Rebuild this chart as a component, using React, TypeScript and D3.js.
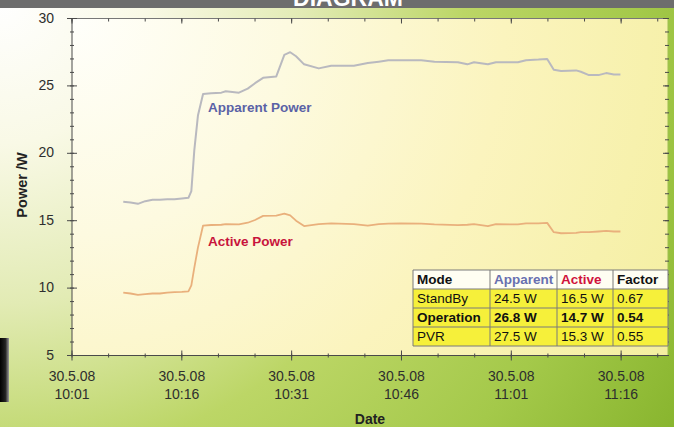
import React from "react";
import * as d3 from "d3";

// ---- data (minutes after 10:00 on 30.5.08) ----
const minutes = [
  8.0, 9.0, 10.0, 11.0, 12.0, 13.0, 14.0, 15.0, 16.0, 16.9, 17.3, 17.7, 18.2, 18.9,
  20.0, 21.4, 22.0, 23.8, 25.0, 26.0, 27.1, 28.9, 30.0, 30.8, 31.6, 32.7, 34.7, 36.4,
  39.5, 41.4, 42.9, 44.2, 45.9, 48.7, 50.5, 53.7, 55.0, 55.9, 57.8, 58.9, 61.9, 63.0,
  64.7, 65.9, 66.8, 67.8, 69.85, 70.5, 71.6, 72.9, 73.95, 75.0, 75.9,
];
const apparentPower = [
  16.4, 16.35, 16.25, 16.45, 16.55, 16.55, 16.6, 16.6, 16.65, 16.7, 17.2, 20.2, 22.8, 24.4,
  24.45, 24.5, 24.6, 24.5, 24.8, 25.2, 25.6, 25.7, 27.3, 27.5, 27.2, 26.6, 26.3, 26.5,
  26.5, 26.7, 26.8, 26.9, 26.9, 26.9, 26.8, 26.75, 26.6, 26.75, 26.6, 26.75, 26.75, 26.9,
  26.95, 27.0, 26.2, 26.1, 26.15, 26.05, 25.8, 25.8, 25.95, 25.85, 25.85,
];
const activePower = [
  9.67, 9.6, 9.5, 9.55, 9.6, 9.6, 9.67, 9.7, 9.72, 9.75, 10.2, 11.5, 13.0, 14.64,
  14.68, 14.7, 14.75, 14.72, 14.85, 15.05, 15.36, 15.38, 15.53, 15.4, 15.0, 14.6, 14.75, 14.8,
  14.75, 14.64, 14.75, 14.78, 14.8, 14.78, 14.72, 14.67, 14.7, 14.75, 14.6, 14.75, 14.72, 14.8,
  14.8, 14.84, 14.15, 14.07, 14.1, 14.15, 14.15, 14.2, 14.25, 14.2, 14.2,
];

const yTicks = [5, 10, 15, 20, 25, 30];
const xTickMinutes = [1, 16, 31, 46, 61, 76];
const xTickDates = ["30.5.08", "30.5.08", "30.5.08", "30.5.08", "30.5.08", "30.5.08"];
const xTickTimes = ["10:01", "10:16", "10:31", "10:46", "11:01", "11:16"];

const tableHeader = ["Mode", "Apparent", "Active", "Factor"];
const modes = ["StandBy", "Operation", "PVR"];
const apparentW = ["24.5 W", "26.8 W", "27.5 W"];
const activeW = ["16.5 W", "14.7 W", "15.3 W"];
const factors = ["0.67", "0.54", "0.55"];

const W = 674;
const H = 427;
const base = new Date(2008, 4, 30, 10, 0, 0).getTime();
const toDate = (m: number) => new Date(base + m * 60000);

const L = 72, R = 668, T = 18.5, B = 355.5;

export default function App() {
  const x = d3.scaleTime().domain([toDate(1), toDate(82.4)]).range([L, R]);
  const y = d3.scaleLinear().domain([5, 30]).range([B, T]);

  const lineGen = (vals: number[]) =>
    d3
      .line<number>()
      .x((_, i) => x(toDate(minutes[i])))
      .y((d) => y(d))
      .curve(d3.curveLinear)(vals) || "";

  const minorY = d3.range(5, 30.001, 1);
  const minorX = d3.range(1, 82, 5);

  const font = "'Liberation Sans', Arial, Helvetica, sans-serif";
  const axisColor = "#4a4a4a";

  const cols = [413, 490, 557, 613, 668];
  const rows = [270, 289, 308, 327, 346];
  const tableRows = modes.map((m, i) => [m, apparentW[i], activeW[i], factors[i]]);

  return (
    <svg
      width={W}
      height={H}
      style={{ position: "absolute", left: 0, top: 0, display: "block" }}
      fontFamily={font}
    >
      <defs>
        <radialGradient id="bg" cx="0" cy="0" r="800" gradientUnits="userSpaceOnUse">
          <stop offset="0" stopColor="#ffffff" />
          <stop offset="0.18" stopColor="#f9f9e6" />
          <stop offset="0.38" stopColor="#e2ebb4" />
          <stop offset="0.58" stopColor="#bcd666" />
          <stop offset="0.8" stopColor="#a4c94a" />
          <stop offset="1" stopColor="#88b52e" />
        </radialGradient>
        <radialGradient id="plotbg" cx={L} cy={T} r="720" gradientUnits="userSpaceOnUse">
          <stop offset="0" stopColor="#fffffb" />
          <stop offset="0.3" stopColor="#fdfae0" />
          <stop offset="0.6" stopColor="#fbf4be" />
          <stop offset="1" stopColor="#f3ee9c" />
        </radialGradient>
        <linearGradient id="dark" x1="0" y1="0" x2="1" y2="0">
          <stop offset="0" stopColor="#000" />
          <stop offset="0.6" stopColor="#222" />
          <stop offset="1" stopColor="#9a9a9a" />
        </linearGradient>
        <clipPath id="barclip">
          <rect x={0} y={0} width={W} height={8} />
        </clipPath>
      </defs>

      <rect x={0} y={0} width={W} height={H} fill="url(#bg)" />
      <rect x={0} y={338} width={9} height={64} fill="url(#dark)" />

      {/* top title bar */}
      <rect x={0} y={0} width={W} height={8} fill="#6d6d6d" />
      <g clipPath="url(#barclip)">
        <text x={348} y={6} textAnchor="middle" fill="#fff" fontWeight="bold" fontSize={23}>
          DIAGRAM
        </text>
      </g>

      {/* plot area */}
      <rect x={L} y={T} width={R - L} height={B - T} fill="url(#plotbg)" />

      {/* frame */}
      <line x1={L} x2={L} y1={T} y2={B} stroke={axisColor} strokeWidth={1} />
      <line x1={L} x2={R} y1={B} y2={B} stroke={axisColor} strokeWidth={1} />
      <line x1={L} x2={R} y1={T} y2={T} stroke="#777" strokeWidth={1} />
      <line x1={R} x2={R} y1={T} y2={B} stroke="#9fbf50" strokeWidth={1} />

      {/* y ticks */}
      {minorY.map((v) => (
        <g key={"ym" + v}>
          <line x1={L - 2} x2={L + 2} y1={y(v)} y2={y(v)} stroke={axisColor} />
          <line x1={R - 3} x2={R + 1} y1={y(v)} y2={y(v)} stroke={axisColor} />
        </g>
      ))}
      {yTicks.map((v) => (
        <g key={"y" + v}>
          <line x1={L - 5} x2={L + 5} y1={y(v)} y2={y(v)} stroke={axisColor} />
          <line x1={R - 5} x2={R + 1} y1={y(v)} y2={y(v)} stroke={axisColor} />
          <text x={54} y={y(v) + 4} textAnchor="end" fontSize={14} fill="#2e2e2e">
            {v}
          </text>
        </g>
      ))}

      {/* x ticks */}
      {minorX.map((m) => (
        <g key={"xm" + m}>
          <line x1={x(toDate(m))} x2={x(toDate(m))} y1={B - 2} y2={B + 2} stroke={axisColor} />
          <line x1={x(toDate(m))} x2={x(toDate(m))} y1={T} y2={T + 3} stroke={axisColor} />
        </g>
      ))}
      {xTickMinutes.map((m, i) => (
        <g key={"x" + m}>
          <line x1={x(toDate(m))} x2={x(toDate(m))} y1={B - 5} y2={B + 5} stroke={axisColor} />
          <line x1={x(toDate(m))} x2={x(toDate(m))} y1={T} y2={T + 5} stroke={axisColor} />
          <text x={x(toDate(m))} y={381} textAnchor="middle" fontSize={14} fill="#2e2e2e">
            {xTickDates[i]}
          </text>
          <text x={x(toDate(m))} y={399} textAnchor="middle" fontSize={14} fill="#2e2e2e">
            {xTickTimes[i]}
          </text>
        </g>
      ))}

      {/* axis titles */}
      <text x={370} y={424} textAnchor="middle" fontSize={14} fontWeight="bold" fill="#222">
        Date
      </text>
      <text
        transform={`translate(27,185) rotate(-90)`}
        textAnchor="middle"
        fontSize={14.5}
        fontWeight="bold"
        fill="#222"
      >
        Power /W
      </text>

      {/* series */}
      <path d={lineGen(apparentPower)} fill="none" stroke="#b9b9bf" strokeWidth={2} strokeLinejoin="round" />
      <path d={lineGen(activePower)} fill="none" stroke="#e9b07c" strokeWidth={1.8} strokeLinejoin="round" />

      <text x={208} y={112} fontSize={13.5} fontWeight="bold" fill="#5a62a6">
        Apparent Power
      </text>
      <text x={208} y={246} fontSize={13.5} fontWeight="bold" fill="#c8143c">
        Active Power
      </text>

      {/* table */}
      <g>
        <rect x={cols[0]} y={rows[0]} width={cols[4] - cols[0]} height={rows[1] - rows[0]} fill="#fffef2" />
        <rect x={cols[0]} y={rows[1]} width={cols[4] - cols[0]} height={rows[4] - rows[1]} fill="#f6f03a" />
        {rows.map((r) => (
          <line key={"r" + r} x1={cols[0]} x2={cols[4]} y1={r} y2={r} stroke="#7a7a7a" />
        ))}
        {cols.map((c) => (
          <line key={"c" + c} x1={c} x2={c} y1={rows[0]} y2={rows[4]} stroke="#7a7a7a" />
        ))}
        {tableHeader.map((h, j) => (
          <text
            key={"h" + j}
            x={cols[j] + 4}
            y={rows[0] + 14}
            fontSize={13.5}
            fontWeight="bold"
            fill={j === 1 ? "#6870b0" : j === 2 ? "#d0143c" : "#111"}
          >
            {h}
          </text>
        ))}
        {tableRows.map((row, i) =>
          row.map((cell, j) => (
            <text
              key={"t" + i + "-" + j}
              x={cols[j] + 4}
              y={rows[i + 1] + 14}
              fontSize={13.5}
              fontWeight={i === 1 ? "bold" : "normal"}
              fill="#111"
            >
              {cell}
            </text>
          ))
        )}
      </g>
    </svg>
  );
}
